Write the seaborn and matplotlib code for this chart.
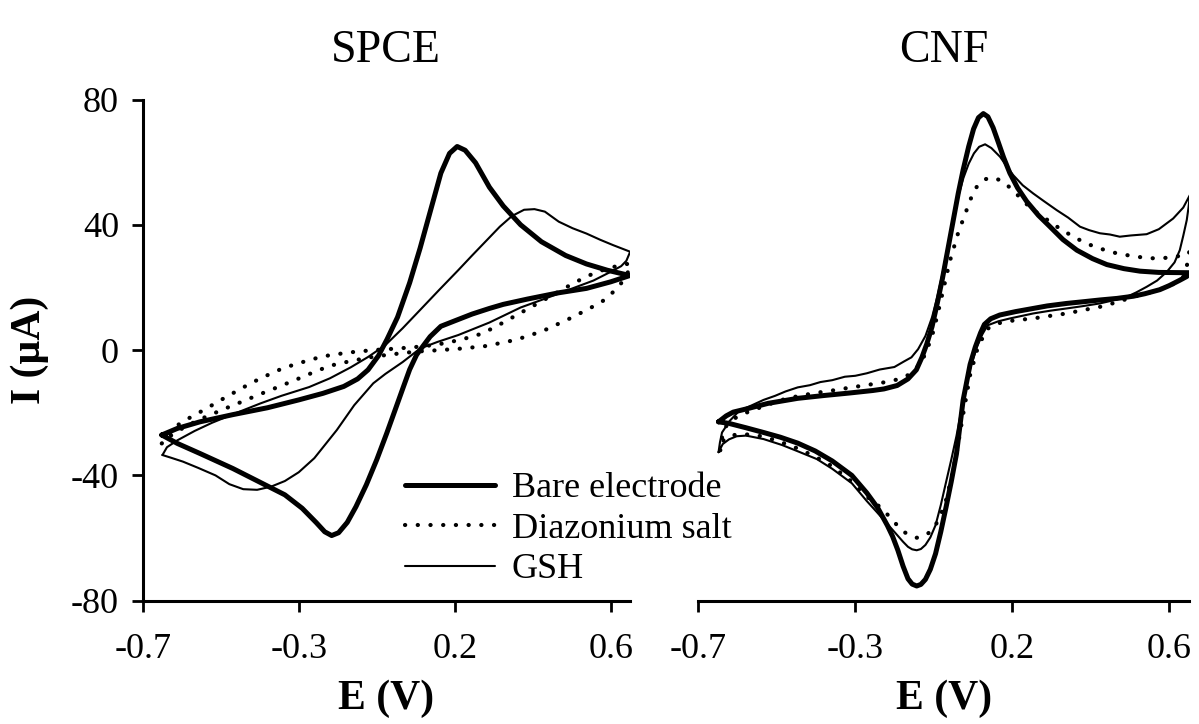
import numpy as np
import pandas as pd
import matplotlib
matplotlib.use("Agg")
import matplotlib.pyplot as plt
import seaborn as sns

# ---------------- data ----------------
series_names = ["Bare electrode", "Diazonium salt", "GSH"]
panel_titles = ["SPCE", "CNF"]
x_ticks = [-0.7, -0.25, 0.2, 0.65]
x_tick_labels = ["-0.7", "-0.3", "0.2", "0.6"]
y_ticks = [-80, -40, 0, 40, 80]
y_tick_labels = ["-80", "-40", "0", "40", "80"]

# ---- SPCE ----
spce_bare_E = [-0.645, -0.60, -0.535, -0.44, -0.34, -0.25, -0.18, -0.12, -0.08, -0.05, -0.02, 0.005, 0.035,
               0.07, 0.10, 0.13, 0.16, 0.185, 0.207, 0.23, 0.26, 0.30, 0.34, 0.39, 0.45, 0.52, 0.58, 0.64, 0.705,
               0.65, 0.58, 0.50, 0.41, 0.34, 0.30, 0.25, 0.206, 0.16, 0.129, 0.11, 0.09, 0.07, 0.052, 0.03,
               0.004, -0.025, -0.055, -0.085, -0.11, -0.135, -0.155, -0.175, -0.20, -0.24, -0.29, -0.34,
               -0.44, -0.535, -0.60, -0.645]
spce_bare_I = [-27.1, -25.0, -22.9, -20.6, -18.4, -15.9, -13.8, -11.6, -9.2, -6.3, -1.8, 3.5, 10.5,
               21.5, 32.5, 44.5, 56.5, 62.8, 65.0, 63.8, 59.8, 52.0, 46.0, 40.0, 34.6, 30.2, 27.5, 25.5, 23.8,
               21.8, 19.7, 18.3, 16.3, 14.6, 13.3, 11.5, 9.6, 7.6, 4.3, 1.5, -1.5, -6.2, -11.7, -18.5,
               -26.5, -35.0, -43.0, -50.0, -55.0, -58.3, -59.2, -58.0, -55.0, -50.5, -46.2, -43.4,
               -37.8, -33.0, -29.8, -27.1]

spce_diaz_E = [-0.645, -0.62, -0.60, -0.56, -0.525, -0.46, -0.40, -0.36, -0.30, -0.257, -0.20, -0.16, -0.10,
               -0.036, 0.02, 0.08, 0.13, 0.177, 0.23, 0.28, 0.33, 0.40, 0.47, 0.537, 0.58, 0.62, 0.66, 0.706,
               0.70, 0.69, 0.672, 0.65, 0.624, 0.58, 0.532, 0.464, 0.41, 0.36, 0.29, 0.22, 0.157, 0.10, 0.061,
               0.00, -0.044, -0.10, -0.16, -0.21, -0.257, -0.31, -0.36, -0.41, -0.463, -0.52, -0.566, -0.61,
               -0.645]
spce_diaz_I = [-29.8, -26.5, -24.0, -21.3, -19.2, -15.0, -11.3, -9.0, -6.0, -4.4, -2.6, -1.6, -0.7,
               0.0, 0.4, 0.9, 1.5, 2.3, 3.7, 5.3, 8.2, 12.5, 16.8, 21.0, 23.5, 25.3, 26.6, 27.7,
               25.0, 22.8, 20.2, 17.8, 15.4, 12.8, 10.1, 6.6, 4.4, 2.9, 1.3, 0.5, 0.0, -0.4, -0.8,
               -1.6, -2.3, -3.5, -5.0, -7.2, -9.4, -11.8, -14.0, -16.3, -18.7, -21.4, -23.8, -26.5,
               -29.8]

spce_gsh_E = [-0.643, -0.63, -0.60, -0.55, -0.50, -0.44, -0.36, -0.30, -0.22, -0.16, -0.10, -0.05, 0.00,
              0.05, 0.10, 0.155, 0.21, 0.25, 0.29, 0.33, 0.365, 0.40, 0.43, 0.46, 0.50, 0.54, 0.58, 0.62,
              0.657, 0.706,
              0.695, 0.68, 0.65, 0.60, 0.53, 0.45, 0.39, 0.30, 0.21, 0.15, 0.10, 0.05, 0.00, -0.035, -0.09,
              -0.14, -0.205, -0.25, -0.29, -0.33, -0.37, -0.41, -0.45, -0.49, -0.54, -0.584, -0.62, -0.643]
spce_gsh_I = [-33.5, -31.0, -28.8, -25.8, -23.2, -20.5, -17.0, -14.6, -11.8, -9.0, -5.5, -2.2, 1.6,
              7.0, 12.8, 19.2, 25.5, 30.2, 34.8, 39.4, 42.8, 44.8, 45.0, 44.2, 41.0, 38.9, 37.2, 35.2,
              33.5, 31.4,
              28.5, 26.8, 25.0, 22.2, 19.3, 16.0, 13.6, 8.8, 4.8, 2.6, 0.5, -3.8, -7.6, -10.6, -17.6,
              -25.5, -34.5, -39.0, -41.8, -43.6, -44.6, -44.4, -42.8, -40.0, -37.6, -35.6, -34.3, -33.5]

# ---- CNF ----
cnf_bare_E = [-0.642, -0.62, -0.60, -0.563, -0.50, -0.415, -0.34, -0.267, -0.20, -0.168, -0.13, -0.099,
              -0.075, -0.059, -0.045, -0.03, -0.015, 0.00, 0.015, 0.03, 0.045, 0.059, 0.075, 0.089, 0.103,
              0.117, 0.13, 0.145, 0.16, 0.175, 0.193, 0.215, 0.241, 0.275, 0.308, 0.345, 0.385, 0.43, 0.471,
              0.52, 0.566, 0.62, 0.709,
              0.70, 0.68, 0.65, 0.623, 0.58, 0.547, 0.50, 0.451, 0.40, 0.356, 0.30, 0.26, 0.21, 0.164, 0.138,
              0.12, 0.109, 0.094, 0.079, 0.059, 0.04, 0.025, 0.01, -0.005, -0.02, -0.035, -0.049, -0.062,
              -0.074, -0.087, -0.099, -0.113, -0.128, -0.143, -0.158, -0.185, -0.217, -0.26, -0.316, -0.365,
              -0.415, -0.465, -0.513, -0.563, -0.612, -0.642]
cnf_bare_I = [-22.9, -21.0, -19.8, -18.8, -17.0, -15.4, -14.5, -13.7, -12.9, -12.4, -11.3, -9.2,
              -6.3, -2.3, 2.0, 7.5, 15.0, 23.0, 32.0, 41.0, 50.0, 57.5, 65.0, 70.6, 74.2,
              75.5, 74.5, 71.0, 66.3, 61.5, 56.5, 51.8, 47.5, 43.0, 39.4, 35.3, 31.9, 29.2, 27.3,
              26.0, 25.2, 24.8, 24.7,
              23.5, 22.3, 20.6, 19.3, 18.0, 17.2, 16.5, 16.0, 15.4, 14.9, 14.1, 13.3, 12.3, 11.2, 10.0,
              8.2, 5.5, 1.0, -4.6, -16.0, -33.1, -42.0, -50.2, -58.0, -65.0, -70.0, -73.2, -74.8,
              -75.3, -74.7, -73.0, -69.0, -63.9, -59.5, -56.0, -50.5, -45.6, -40.0, -35.4, -32.2,
              -29.7, -27.8, -26.3, -24.8, -23.4, -22.9]

cnf_diaz_E = [-0.637, -0.632, -0.627, -0.60, -0.563, -0.51, -0.464, -0.415, -0.365, -0.31, -0.267, -0.22,
              -0.168, -0.13, -0.099, -0.075, -0.059, -0.045, -0.03, -0.015, 0.00, 0.02, 0.045, 0.069, 0.085,
              0.098, 0.12, 0.145, 0.17, 0.203, 0.23, 0.26, 0.30, 0.336, 0.375, 0.413, 0.455, 0.499, 0.55,
              0.595, 0.635, 0.671, 0.707,
              0.705, 0.69, 0.67, 0.643, 0.60, 0.547, 0.50, 0.451, 0.40, 0.356, 0.30, 0.26, 0.215, 0.178,
              0.15, 0.129, 0.115, 0.099, 0.079, 0.059, 0.04, 0.025, 0.01, -0.005, -0.02, -0.035, -0.049,
              -0.062, -0.074, -0.09, -0.108, -0.128, -0.148, -0.18, -0.217, -0.26, -0.316, -0.365, -0.415,
              -0.465, -0.513, -0.55, -0.583, -0.605, -0.627, -0.637]
cnf_diaz_I = [-32.0, -28.0, -25.1, -22.0, -20.0, -17.8, -16.0, -14.7, -13.7, -12.8, -12.0, -11.2,
              -10.3, -9.4, -8.0, -5.8, -3.5, 0.0, 4.5, 11.0, 18.2, 28.0, 37.5, 44.7, 49.5,
              52.1, 54.5, 55.1, 54.0, 51.0, 47.7, 44.7, 41.6, 38.8, 36.2, 34.0, 32.3, 30.9, 29.9,
              29.3, 29.4, 29.8, 31.4,
              28.7, 23.4, 21.5, 20.2, 18.5, 17.0, 15.3, 13.8, 12.7, 11.7, 10.8, 10.1, 9.6, 9.1,
              8.2, 6.8, 4.0, 0.0, -8.0, -20.6, -33.1, -41.0, -47.9, -52.5, -55.9, -58.0, -59.1,
              -59.7, -59.9, -59.4, -58.2, -56.2, -53.6, -50.0, -46.8, -42.0, -37.1, -34.0, -31.4,
              -29.3, -27.6, -27.0, -26.8, -27.3, -28.6, -32.0]

cnf_gsh_E = [-0.642, -0.638, -0.632, -0.61, -0.583, -0.55, -0.513, -0.48, -0.45, -0.415, -0.38, -0.35,
             -0.316, -0.28, -0.25, -0.217, -0.18, -0.138, -0.11, -0.089, -0.07, -0.049, -0.03, -0.015,
             0.00, 0.015, 0.03, 0.045, 0.06, 0.075, 0.09, 0.105, 0.122, 0.14, 0.165, 0.185, 0.203, 0.23,
             0.26, 0.29, 0.327, 0.36, 0.394, 0.42, 0.451, 0.48, 0.508, 0.54, 0.585, 0.62, 0.661, 0.69,
             0.709,
             0.705, 0.70, 0.69, 0.68, 0.665, 0.643, 0.615, 0.585, 0.555, 0.528, 0.49, 0.451, 0.40, 0.356,
             0.31, 0.26, 0.193, 0.16, 0.129, 0.114, 0.099, 0.084, 0.069, 0.055, 0.04, 0.025, 0.01, -0.005,
             -0.02, -0.035, -0.049, -0.062, -0.074, -0.087, -0.099, -0.113, -0.128, -0.158, -0.19, -0.217,
             -0.26, -0.316, -0.36, -0.415, -0.46, -0.513, -0.563, -0.59, -0.612, -0.63, -0.642]
cnf_gsh_I = [-32.6, -29.5, -26.3, -22.6, -19.4, -17.8, -15.9, -14.6, -13.2, -11.9, -11.2, -10.2,
             -9.6, -8.5, -8.2, -7.4, -6.2, -5.4, -3.6, -2.3, 0.3, 4.5, 10.5, 17.0,
             24.5, 33.0, 41.5, 49.0, 55.0, 59.5, 62.8, 64.9, 65.7, 64.5, 61.7, 58.5, 55.8, 52.6,
             50.0, 47.6, 44.7, 42.3, 39.4, 38.3, 37.3, 36.9, 36.2, 36.6, 37.0, 38.6, 42.0, 45.5,
             49.5,
             45.5, 41.5, 36.5, 31.9, 28.0, 25.0, 22.2, 20.2, 18.4, 17.0, 15.9, 14.9, 14.0, 13.3,
             12.6, 11.7, 10.1, 9.2, 7.9, 5.0, 1.1, -4.0, -10.3, -18.5, -27.4, -35.0, -42.2, -49.5,
             -55.9, -59.8, -62.2, -63.5, -63.9, -63.6, -62.8, -61.2, -59.3, -55.5, -51.5, -48.2,
             -42.5, -37.9, -34.8, -32.3, -30.3, -28.4, -27.3, -27.5, -28.5, -30.0, -32.6]

# ---------------- style ----------------
sns.set_style("ticks")
plt.rcParams["font.family"] = ["Liberation Serif", "DejaVu Serif"]
plt.rcParams["axes.linewidth"] = 2.2
for key in ["text.color", "axes.labelcolor", "xtick.color", "ytick.color", "axes.edgecolor"]:
    plt.rcParams[key] = "black"

W, H = 1199, 724
fig = plt.figure(figsize=(W / 100, H / 100), dpi=100)


def frac_box(x0, y_top, x1, y_bot):
    return [x0 / W, 1 - y_bot / H, (x1 - x0) / W, (y_bot - y_top) / H]


ax1 = fig.add_axes(frac_box(142.7, 99.5, 630.0, 600.7))
ax2 = fig.add_axes(frac_box(698.3, 99.5, 1189.3, 600.7))

styles = {
    "Bare electrode": dict(linewidth=3.6, linestyle="-", solid_capstyle="round", solid_joinstyle="round"),
    "Diazonium salt": dict(linewidth=3.0, linestyle=(0, (0.05, 3.0)), dash_capstyle="round"),
    "GSH": dict(linewidth=1.5, linestyle="-", solid_joinstyle="round"),
}

panels = [
    (ax1, [(spce_bare_E, spce_bare_I), (spce_diaz_E, spce_diaz_I), (spce_gsh_E, spce_gsh_I)], (-0.7, 0.7055)),
    (ax2, [(cnf_bare_E, cnf_bare_I), (cnf_diaz_E, cnf_diaz_I), (cnf_gsh_E, cnf_gsh_I)], (-0.7, 0.7073)),
]

for ax, data, xlim in panels:
    ax.set_facecolor("none")
    for name, (E, I) in zip(series_names, data):
        df = pd.DataFrame({"E": E, "I": I})
        sns.lineplot(data=df, x="E", y="I", sort=False, estimator=None, ax=ax,
                     color="black", label=name, legend=False, **styles[name])
    ax.set_xlim(*xlim)
    ax.set_ylim(-80, 80)
    ax.set_xticks(x_ticks)
    ax.set_xticklabels(x_tick_labels)
    ax.set_xlabel("")
    ax.set_ylabel("")
    ax.tick_params(axis="both", direction="out", length=8, width=2.0, labelsize=26, color="black",
                   labelcolor="black")
    ax.tick_params(axis="x", pad=15)
    ax.tick_params(axis="y", pad=9)
    for s in ["top", "right"]:
        ax.spines[s].set_visible(False)
    ax.text(0.5, -0.216, "E (V)", transform=ax.transAxes, ha="center", va="baseline",
            fontsize=30, fontweight="bold")

ax1.set_yticks(y_ticks)
ax1.set_yticklabels(y_tick_labels)
ax2.spines["left"].set_visible(False)
ax2.set_yticks([])

for ax, t in zip([ax1, ax2], panel_titles):
    ax.text(0.5, 1.075, t, transform=ax.transAxes, ha="center", va="baseline", fontsize=33)

fig.text(30 / W, 1 - 350 / H, "I (\u00b5A)", rotation=90, ha="center", va="center",
         fontsize=30, fontweight="bold")

handles, labels = ax1.get_legend_handles_labels()
leg = ax1.legend(handles, labels, loc="center left",
                 bbox_to_anchor=((405 - 142.7) / 487.3, (600.7 - 529) / 501.2),
                 frameon=False, fontsize=26, handlelength=2.5, handletextpad=0.45, labelspacing=0.2,
                 borderpad=0, borderaxespad=0)
leg.set_zorder(10)

fig.savefig("out.png", dpi=100)
